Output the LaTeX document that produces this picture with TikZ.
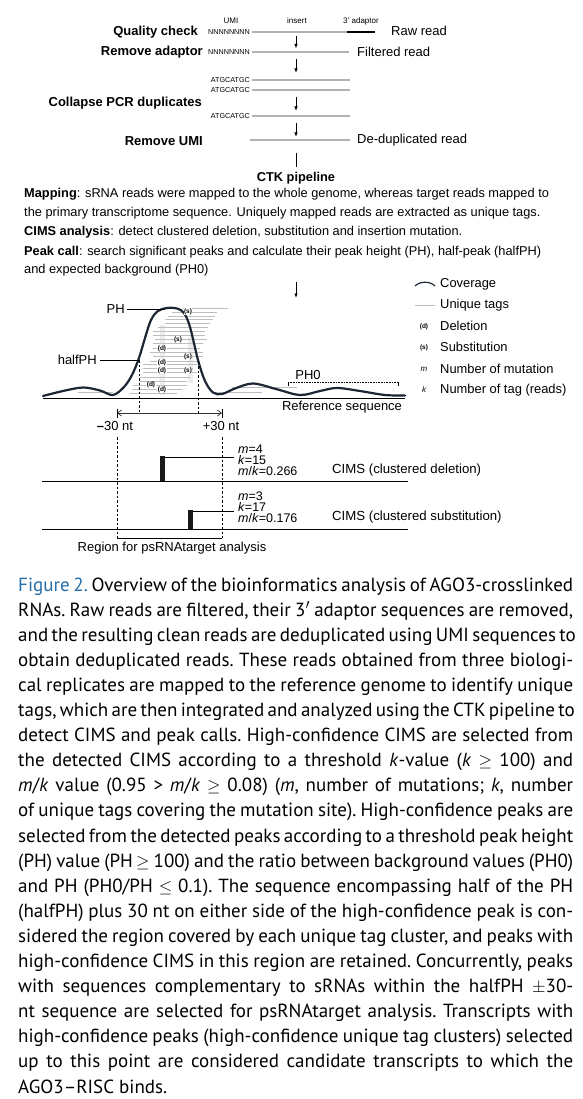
\documentclass[tikz,border=0pt]{standalone}
\usepackage{fontspec}
\setmainfont{Liberation Sans}
\newfontfamily\capfont{PT Sans}
\usetikzlibrary{arrows.meta}
\newcommand\myfs[1]{\fontsize{#1}{#1}\selectfont}
\definecolor{curvec}{RGB}{28,38,52}
\definecolor{taggray}{RGB}{190,190,190}
\definecolor{readgray}{RGB}{178,178,178}
\definecolor{figblue}{RGB}{35,110,170}
\begin{document}
\begin{tikzpicture}[x=1pt,y=-1pt,
  every node/.style={inner sep=0pt},
  txt/.style={font=\myfs{13}},
  steplbl/.style={font=\myfs{13}\bfseries, anchor=east},
  seqlbl/.style={font=\myfs{7.2}, anchor=east},
  toplbl/.style={font=\myfs{8}},
  para/.style={font=\myfs{12.8}, anchor=west},
  readline/.style={line width=2.2pt, readgray},
  adline/.style={line width=2.6pt, black},
  sarrow/.style={line width=0.8pt, -{Latex[length=4.5pt,width=3.5pt]}},
  tagline/.style={line width=0.6pt, taggray},
  mut/.style={font=\myfs{6.5}\bfseries, fill=white, inner sep=0.4pt},
  cov/.style={line width=2.2pt, curvec, line cap=round},
  vdash/.style={line width=0.6pt, dash pattern=on 2.5pt off 2pt},
  legtxt/.style={font=\myfs{12.9}, anchor=west},
  cimstxt/.style={font=\myfs{12.5}, anchor=west, align=left},
  barfill/.style={fill=black!90}
]
\useasboundingbox (0,0) rectangle (582,1099);
\fill[white] (0,0) rectangle (582,1099);

% ---------- top labels
\node[toplbl] (umi) at (231,21) {UMI};
\node[toplbl] (ins) at (297,21) {insert};
\node[toplbl] (adp) at (361,21) {3' adaptor};

% ---------- row 1
\node[steplbl] (qc) at (198,32) {Quality check};
\node[seqlbl] (n1) at (250,32.5) {NNNNNNNN};
\coordinate (r1a) at (252,32); \coordinate (r1b) at (347,32); \coordinate (r1c) at (375,32);
\draw[readline] (r1a) -- (r1b);
\draw[adline] (r1b) -- (r1c);
\node[txt, anchor=west] (raw) at (391,31) {Raw read};
\coordinate (a1s) at (296,36); \coordinate (a1e) at (296,48.5);
\draw[sarrow] (a1s) -- (a1e);

% ---------- row 2
\node[steplbl] (ra) at (203,52) {Remove adaptor};
\node[seqlbl] (n2) at (250,52.5) {NNNNNNNN};
\coordinate (r2a) at (252,52); \coordinate (r2b) at (349,52);
\draw[readline] (r2a) -- (r2b);
\node[txt, anchor=west] (filt) at (357,52) {Filtered read};
\coordinate (a2s) at (296,59); \coordinate (a2e) at (296,73);
\draw[sarrow] (a2s) -- (a2e);

% ---------- row 3
\node[seqlbl] (s1) at (250,80.5) {ATGCATGC};
\node[seqlbl] (s2) at (250,90.5) {ATGCATGC};
\node[seqlbl] (s3) at (250,116.5) {ATGCATGC};
\coordinate (r3a) at (252,80); \coordinate (r3b) at (350,80);
\coordinate (r4a) at (252,90); \coordinate (r4b) at (350,90);
\coordinate (r5a) at (252,116); \coordinate (r5b) at (350,116);
\draw[readline] (r3a) -- (r3b);
\draw[readline] (r4a) -- (r4b);
\draw[readline] (r5a) -- (r5b);
\node[steplbl] (cp) at (202,103) {Collapse PCR duplicates};
\coordinate (a3s) at (296,97); \coordinate (a3e) at (296,111);
\draw[sarrow] (a3s) -- (a3e);
\coordinate (a4s) at (296,123); \coordinate (a4e) at (296,137);
\draw[sarrow] (a4s) -- (a4e);

% ---------- row 4
\node[steplbl] (ru) at (203,141) {Remove UMI};
\coordinate (r6a) at (250,140); \coordinate (r6b) at (350,140);
\draw[readline] (r6a) -- (r6b);
\node[txt, anchor=west] (dedup) at (357,140) {De-duplicated read};

% ---------- CTK
\coordinate (ctks) at (296,153); \coordinate (ctke) at (296,167);
\node[font=\myfs{12.8}\bfseries] (ctk) at (296,178) {CTK pipeline};
\draw[line width=0.8pt] (ctks) -- (ctke);

\node[para] (p1) at (24,194) {\textbf{Mapping}: sRNA reads were mapped to the whole genome, whereas target reads mapped to};
\node[para] (p2) at (24,213) {the primary transcriptome sequence. Uniquely mapped reads are extracted as unique tags.};
\node[para] (p3) at (24,232.5) {\textbf{CIMS analysis}: detect clustered deletion, substitution and insertion mutation.};
\node[para] (p4) at (24,252) {\textbf{Peak call}: search significant peaks and calculate their peak height (PH), half-peak (halfPH)};
\node[para] (p5) at (24,270.5) {and expected background (PH0)};
\coordinate (a5s) at (296,282); \coordinate (a5e) at (296,298);
\draw[sarrow] (a5s) -- (a5e);

% ---------- legend
\coordinate (lc1) at (415,286); \coordinate (lc2) at (435,286);
\draw[line width=1.2pt, curvec] (lc1) .. controls (420,281) and (430,281) .. (lc2);
\node[legtxt] (lcov) at (440,284) {Coverage};
\coordinate (lt1) at (415,305); \coordinate (lt2) at (435,305);
\draw[line width=0.8pt, taggray] (lt1) -- (lt2);
\node[legtxt] (ltag) at (440,305) {Unique tags};
\node[mut, fill=none] (ld) at (424,326.5) {(d)};
\node[legtxt] (ldel) at (440,326) {Deletion};
\node[mut, fill=none] (ls) at (424,347.5) {(s)};
\node[legtxt] (lsub) at (440,347) {Substitution};
\node[font=\myfs{8}\itshape] (lm) at (424,369) {m};
\node[legtxt] (lnm) at (440,369) {Number of mutation};
\node[font=\myfs{8}\itshape] (lk) at (424,390) {k};
\node[legtxt] (lnk) at (440,390) {Number of tag (reads)};

% ---------- peak plot
\fill[black!7] (159.5,325) rectangle (165,395);
\fill[black!7] (187.5,337) rectangle (193,383);
% unique tags
\foreach \xa/\xb/\yy in {183/228/308, 172/217/312, 168/215/316, 165/213/319.5, 165/210/323,
  158/208/327, 153/205/331, 153/205/335, 155/207/339, 153/203/343.5, 153/200/348,
  150/203/352, 153/203/356.5, 150/200/361, 143/197/364, 143/193/368, 143/197/372,
  140/190/377, 140/187/381, 133/187/385, 132/182/389.5, 130/177/393,
  78/113/392, 232/297/387, 215/262/392}
  {\draw[tagline] (\xa,\yy) -- (\xb,\yy);}
% reference line
\coordinate (ref1) at (43,398); \coordinate (ref2) at (405,398);
\draw[line width=1pt] (ref1) -- (ref2);
% coverage curve
\draw[cov] plot[smooth, tension=0.55] coordinates {(43,396) (63,391) (83,387.5) (100,390.5) (113,395)
  (124,387) (132,375) (139,358) (145,338) (151,320) (158,311) (167,308) (177,308.5) (184,313)
  (190,327) (198,360) (205,381) (213,392.5) (222,394) (235,388.5) (253,383.5) (276,389) (300,395)
  (320,391) (337,388) (360,391) (385,395) (405,395.5)};
% mutation labels
\node[mut] (m1) at (188,311.5) {(s)};
\node[mut] (m2) at (178,339.5) {(s)};
\node[mut] (m3) at (162,348.5) {(d)};
\node[mut] (m4) at (188,357) {(s)};
\node[mut] (m5) at (162,362.5) {(d)};
\node[mut] (m6) at (162,371) {(d)};
\node[mut] (m7) at (188,371) {(s)};
\node[mut] (m8) at (151,385) {(d)};
\node[mut] (m9) at (162,389.5) {(d)};
% PH / halfPH
\node[txt, anchor=east] (ph) at (125,309) {PH};
\coordinate (phe) at (165,309);
\draw[line width=0.7pt] (ph.east) ++(2,0) -- (phe);
\node[txt, anchor=east] (hph) at (97,360) {halfPH};
\coordinate (hl) at (139,360); \coordinate (hr) at (198,361.5);
\draw[line width=0.7pt] (hph.east) ++(3,0) -- (hl);
\coordinate (hlb) at (139,413); \coordinate (hrb) at (198,413);
\draw[vdash] (hl) -- (hlb);
\draw[vdash] (hr) -- (hrb);
% PH0
\node[txt] (ph0) at (308,375) {PH0};
\coordinate (p0a) at (288,382); \coordinate (p0b) at (398,382);
\draw[line width=0.6pt, densely dotted] (p0a) -- (p0b);
\draw[line width=0.5pt] (p0a) -- ++(0,3.5);
\draw[line width=0.5pt] (p0b) -- ++(0,3.5);
\node[txt] (refseq) at (342,407.5) {Reference sequence};
% +-30 arrow
\coordinate (m30) at (117,413); \coordinate (p30) at (222,413);
\draw[line width=0.7pt, black!80, {Straight Barb[length=4pt,width=6pt]}-{Straight Barb[length=4pt,width=6pt]}] (m30) -- (p30);
\draw[line width=0.7pt] (117,408.5) -- (117,418);
\draw[line width=0.7pt] (222,408.5) -- (222,418);
\node[txt] (lm30) at (115,426.5) {\textbf{\char"2013}30 nt};
\node[txt] (lp30) at (221,426.5) {+30 nt};

% ---------- CIMS section
\coordinate (d1t) at (117,437); \coordinate (d1b) at (117,538);
\coordinate (d2t) at (222,437); \coordinate (d2b) at (222,538);
\draw[vdash] (d1t) -- (d1b);
\draw[vdash] (d2t) -- (d2b);
\draw[line width=0.7pt] (d1b) -- (d2b);
\node[font=\myfs{13}] (region) at (172,548) {Region for psRNAtarget analysis};

\coordinate (c1a) at (42,481); \coordinate (c1b) at (408,481);
\draw[line width=0.8pt] (c1a) -- (c1b);
\fill[barfill] (160,456) rectangle (164.5,481);
\coordinate (h1a) at (164.5,457); \coordinate (h1b) at (234,457);
\draw[line width=0.7pt] (h1a) -- (h1b);
\node[cimstxt] (t1a) at (238,449) {\textit{m}=4};
\node[cimstxt] (t1b) at (238,460) {\textit{k}=15};
\node[cimstxt] (t1c) at (238,471) {\textit{m}/\textit{k}=0.266};
\node[font=\myfs{13.2}, anchor=west] (cd) at (332,470.5) {CIMS (clustered deletion)};

\coordinate (c2a) at (42,529); \coordinate (c2b) at (408,529);
\draw[line width=0.8pt] (c2a) -- (c2b);
\fill[barfill] (188,510) rectangle (193,529);
\coordinate (h2a) at (193,511); \coordinate (h2b) at (234,511);
\draw[line width=0.7pt] (h2a) -- (h2b);
\node[cimstxt] (t2a) at (238,496) {\textit{m}=3};
\node[cimstxt] (t2b) at (238,507) {\textit{k}=17};
\node[cimstxt] (t2c) at (238,518) {\textit{m}/\textit{k}=0.176};
\node[font=\myfs{13.2}, anchor=west] (cs) at (332,517.5) {CIMS (clustered substitution)};

% ---------- caption
\node[anchor=base west] (cap) at (18,1093) {\capfont\myfs{19}\frenchspacing\vbox{\baselineskip=25.1pt
\hbox to 555pt{{\color{figblue}Figure 2.} Overview of the bioinformatics analysis of AGO3-crosslinked}
\hbox to 555pt{RNAs. Raw reads are filtered, their 3$'$ adaptor sequences are removed,}
\hbox to 555pt{and the resulting clean reads are deduplicated using UMI sequences to}
\hbox to 555pt{obtain deduplicated reads. These reads obtained from three biologi-}
\hbox to 555pt{cal replicates are mapped to the reference genome to identify unique}
\hbox to 555pt{tags, which are then integrated and analyzed using the CTK pipeline to}
\hbox to 555pt{detect CIMS and peak calls. High-confidence CIMS are selected from}
\hbox to 555pt{the detected CIMS according to a threshold \textit{k}-value (\textit{k} $\geq$ 100) and}
\hbox to 555pt{\textit{m}/\textit{k} value (0.95 > \textit{m}/\textit{k} $\geq$ 0.08) (\textit{m}, number of mutations; \textit{k}, number}
\hbox to 555pt{of unique tags covering the mutation site). High-confidence peaks are}
\hbox to 555pt{selected from the detected peaks according to a threshold peak height}
\hbox to 555pt{(PH) value (PH\,$\geq$ 100) and the ratio between background values (PH0)}
\hbox to 555pt{and PH (PH0/PH $\leq$ 0.1). The sequence encompassing half of the PH}
\hbox to 555pt{(halfPH) plus 30 nt on either side of the high-confidence peak is con-}
\hbox to 555pt{sidered the region covered by each unique tag cluster, and peaks with}
\hbox to 555pt{high-confidence CIMS in this region are retained. Concurrently, peaks}
\hbox to 555pt{with sequences complementary to sRNAs within the halfPH $\pm$30-}
\hbox to 555pt{nt sequence are selected for psRNAtarget analysis. Transcripts with}
\hbox to 555pt{high-confidence peaks (high-confidence unique tag clusters) selected}
\hbox to 555pt{up to this point are considered candidate transcripts to which the}
\hbox{AGO3–RISC binds.}}};
\end{tikzpicture}
\end{document}
